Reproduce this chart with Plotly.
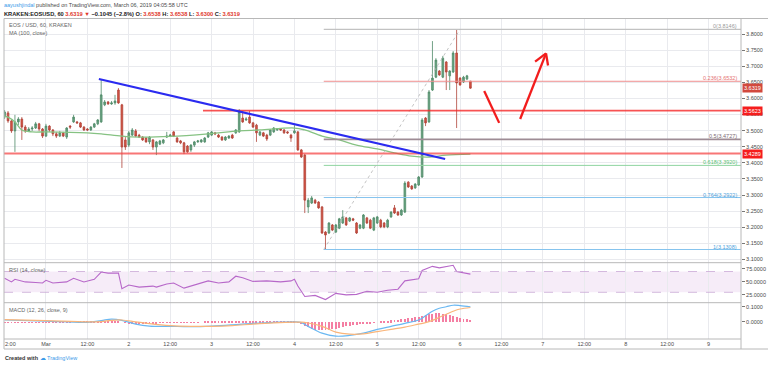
import pandas as pd
import plotly.graph_objects as go
from plotly.subplots import make_subplots

# ---------------- data (hourly candles, KRAKEN EOS/USD) ----------------
opens = [3.542, 3.555, 3.530, 3.499, 3.527, 3.536, 3.511, 3.499, 3.505, 3.508, 3.521, 3.505,
         3.483, 3.514, 3.502, 3.490, 3.483, 3.493, 3.480, 3.514, 3.527, 3.527, 3.524, 3.511,
         3.505, 3.502, 3.511, 3.521, 3.527, 3.580, 3.589, 3.583, 3.586, 3.626, 3.580, 3.471,
         3.455, 3.486, 3.499, 3.486, 3.480, 3.477, 3.465, 3.471, 3.449, 3.458, 3.462, 3.480,
         3.483, 3.496, 3.477, 3.468, 3.462, 3.452, 3.440, 3.455, 3.465, 3.465, 3.465, 3.480,
         3.486, 3.493, 3.486, 3.480, 3.471, 3.477, 3.486, 3.493, 3.496, 3.539, 3.533, 3.542,
         3.524, 3.517, 3.486, 3.493, 3.486, 3.486, 3.496, 3.502, 3.505, 3.502, 3.496, 3.486,
         3.493, 3.496, 3.440, 3.424, 3.263, 3.275, 3.284, 3.278, 3.263, 3.185, 3.182, 3.207,
         3.185, 3.197, 3.213, 3.229, 3.219, 3.226, 3.213, 3.197, 3.197, 3.229, 3.222, 3.191,
         3.213, 3.222, 3.213, 3.201, 3.232, 3.260, 3.247, 3.238, 3.247, 3.340, 3.328, 3.322,
         3.331, 3.356, 3.539, 3.527, 3.626, 3.666, 3.685, 3.666, 3.713, 3.670, 3.682, 3.741,
         3.663, 3.651, 3.660, 3.6538]
highs = [3.564, 3.561, 3.533, 3.549, 3.542, 3.542, 3.517, 3.511, 3.514, 3.527, 3.524, 3.508,
         3.521, 3.517, 3.505, 3.496, 3.499, 3.496, 3.511, 3.517, 3.549, 3.530, 3.527, 3.514,
         3.508, 3.514, 3.524, 3.536, 3.660, 3.595, 3.592, 3.592, 3.611, 3.632, 3.583, 3.480,
         3.499, 3.508, 3.505, 3.490, 3.483, 3.480, 3.483, 3.474, 3.468, 3.471, 3.474, 3.496,
         3.490, 3.499, 3.480, 3.471, 3.465, 3.455, 3.458, 3.468, 3.471, 3.474, 3.480, 3.496,
         3.499, 3.496, 3.490, 3.483, 3.483, 3.486, 3.490, 3.505, 3.567, 3.561, 3.542, 3.561,
         3.527, 3.521, 3.499, 3.496, 3.490, 3.505, 3.511, 3.508, 3.508, 3.505, 3.499, 3.490,
         3.517, 3.499, 3.443, 3.427, 3.291, 3.297, 3.288, 3.281, 3.266, 3.188, 3.216, 3.210,
         3.210, 3.229, 3.253, 3.232, 3.232, 3.229, 3.216, 3.210, 3.241, 3.232, 3.226, 3.232,
         3.235, 3.226, 3.216, 3.226, 3.250, 3.269, 3.250, 3.257, 3.343, 3.343, 3.331, 3.337,
         3.359, 3.539, 3.542, 3.626, 3.778, 3.725, 3.688, 3.732, 3.716, 3.688, 3.747, 3.8146,
         3.666, 3.670, 3.673, 3.6538]
lows = [3.536, 3.524, 3.493, 3.434, 3.517, 3.471, 3.493, 3.496, 3.499, 3.505, 3.499, 3.477,
        3.480, 3.496, 3.483, 3.477, 3.480, 3.480, 3.474, 3.505, 3.524, 3.521, 3.508, 3.499,
        3.499, 3.499, 3.508, 3.517, 3.524, 3.576, 3.580, 3.580, 3.580, 3.583, 3.384, 3.440,
        3.449, 3.483, 3.480, 3.477, 3.468, 3.462, 3.458, 3.440, 3.424, 3.455, 3.458, 3.477,
        3.480, 3.480, 3.462, 3.458, 3.427, 3.431, 3.434, 3.449, 3.462, 3.462, 3.462, 3.477,
        3.483, 3.486, 3.477, 3.468, 3.468, 3.474, 3.474, 3.490, 3.493, 3.524, 3.530, 3.521,
        3.508, 3.465, 3.483, 3.480, 3.468, 3.483, 3.493, 3.499, 3.499, 3.490, 3.490, 3.465,
        3.490, 3.437, 3.415, 3.244, 3.244, 3.272, 3.272, 3.257, 3.179, 3.1308, 3.179, 3.188,
        3.182, 3.194, 3.210, 3.204, 3.216, 3.219, 3.179, 3.194, 3.194, 3.210, 3.194, 3.188,
        3.210, 3.197, 3.197, 3.197, 3.229, 3.241, 3.235, 3.235, 3.244, 3.322, 3.316, 3.319,
        3.328, 3.353, 3.514, 3.524, 3.623, 3.663, 3.670, 3.663, 3.626, 3.626, 3.679, 3.508,
        3.639, 3.648, 3.657, 3.630]
closes = [3.558, 3.530, 3.499, 3.527, 3.536, 3.511, 3.499, 3.505, 3.508, 3.521, 3.505, 3.483,
          3.514, 3.502, 3.490, 3.483, 3.493, 3.483, 3.508, 3.511, 3.542, 3.524, 3.511, 3.502,
          3.502, 3.511, 3.521, 3.533, 3.611, 3.589, 3.583, 3.586, 3.592, 3.586, 3.449, 3.449,
          3.493, 3.502, 3.483, 3.480, 3.471, 3.465, 3.480, 3.449, 3.465, 3.468, 3.471, 3.483,
          3.486, 3.483, 3.465, 3.462, 3.434, 3.434, 3.455, 3.465, 3.468, 3.471, 3.477, 3.493,
          3.496, 3.490, 3.480, 3.471, 3.480, 3.483, 3.477, 3.502, 3.558, 3.527, 3.536, 3.524,
          3.511, 3.493, 3.496, 3.483, 3.474, 3.502, 3.508, 3.505, 3.502, 3.493, 3.493, 3.477,
          3.499, 3.440, 3.418, 3.284, 3.284, 3.291, 3.275, 3.260, 3.182, 3.176, 3.213, 3.191,
          3.207, 3.226, 3.232, 3.207, 3.229, 3.222, 3.182, 3.207, 3.238, 3.213, 3.197, 3.229,
          3.232, 3.201, 3.201, 3.222, 3.247, 3.244, 3.238, 3.253, 3.337, 3.325, 3.319, 3.334,
          3.356, 3.533, 3.524, 3.620, 3.663, 3.719, 3.673, 3.725, 3.682, 3.685, 3.741, 3.648,
          3.642, 3.666, 3.670, 3.6319]
first_candle = "2019-02-28 12:00"

# MA(100, close), read at hours after 2019-03-01 00:00
ma_hours = [-12, -11, -9, -7, -4, 0, 12, 16, 22, 27, 36, 47, 56, 62, 72, 75, 80, 85, 90, 96, 101, 106, 111, 116, 123]
ma_values = [3.545, 3.542, 3.527, 3.502, 3.496, 3.496, 3.493, 3.490, 3.483, 3.480, 3.482, 3.490, 3.499,
             3.502, 3.508, 3.502, 3.483, 3.471, 3.455, 3.443, 3.431, 3.421, 3.418, 3.424, 3.427]

# RSI(14)
rsi_hours = [-12, -10, -9, -6, -3, -1, 0, 2, 6, 8, 11, 14, 16, 18, 21, 22, 24, 27, 31, 32,
             35, 37, 40, 43, 45, 47, 50, 53, 55, 57, 60, 64, 68, 71, 72, 73, 75, 78, 81, 84,
             87, 90, 93, 96, 99, 102, 104, 108, 109, 112, 114, 116, 118, 119, 121, 123]
rsi_values = [57, 50, 55, 50, 49, 48, 53, 48, 50, 57, 50, 55, 69, 67, 67, 37, 44, 40, 42, 40,
              46, 48, 38, 44, 48, 52, 48, 50, 61, 58, 51, 52, 50, 52, 55, 42, 22, 24, 16, 28,
              25, 26, 32, 30, 34, 36, 52, 56, 72, 80, 77, 79, 82, 70, 68, 65]

# MACD(12, 26, close, 9)
macd_hours = [-12, 0, 12, 16, 19, 22, 26, 30, 36, 42, 48, 54, 60, 66, 72, 74, 76, 80, 84, 88,
              92, 96, 100, 104, 108, 110, 112, 114, 116, 118, 120, 123]
macd_values = [0.012, 0.005, -0.003, 0.008, 0.018, 0.010, -0.015, -0.028, -0.030, -0.032,
               -0.028, -0.020, -0.010, -0.003, 0.000, -0.005, -0.030, -0.075, -0.095, -0.090,
               -0.075, -0.050, -0.030, -0.010, 0.012, 0.040, 0.070, 0.090, 0.100, 0.110, 0.108, 0.100]
signal_values = [0.015, 0.008, 0.000, 0.002, 0.010, 0.012, 0.000, -0.012, -0.025, -0.030,
                 -0.030, -0.025, -0.015, -0.007, -0.002, -0.002, -0.008, -0.030, -0.068, -0.082,
                 -0.080, -0.065, -0.050, -0.035, -0.015, -0.005, 0.010, 0.030, 0.050, 0.070, 0.085, 0.095]
hist_values = [-0.003, -0.003, -0.002, -0.002, -0.002, -0.002, -0.001, -0.001, -0.001, -0.001, -0.002, -0.002,
               -0.002, -0.002, -0.002, -0.002, -0.001, -0.001, -0.001, -0.001, 0.0, 0.0, 0.001, 0.001,
               0.001, 0.002, 0.003, 0.004, 0.005, 0.006, 0.007, 0.008, 0.008, 0.006,
               0.0, -0.004, -0.007, -0.009, -0.01, -0.01, -0.01, -0.009, -0.008, -0.007, -0.006, -0.005, -0.004, -0.003,
               -0.002, -0.002, -0.002, -0.002, -0.003, -0.003, -0.002, -0.001, -0.001, 0.0, 0.001, 0.001,
               0.002, 0.002, 0.003, 0.003, 0.004, 0.004, 0.005, 0.005, 0.006, 0.006, 0.006, 0.006,
               0.006, 0.005, 0.005, 0.005, 0.004, 0.004, 0.004, 0.003, 0.003, 0.003, 0.002, 0.002,
               0.002, -0.004, -0.01, -0.025, -0.035, -0.045, -0.05, -0.052, -0.055, -0.055, -0.052, -0.048,
               -0.043, -0.038, -0.033, -0.028, -0.024, -0.02, -0.017, -0.014, -0.011, -0.008, -0.006, -0.004,
               0.0, 0.003, 0.006, 0.009, 0.012, 0.015, 0.017, 0.019, 0.024, 0.027, 0.029, 0.031,
               0.034, 0.042, 0.047, 0.052, 0.056, 0.058, 0.058, 0.056, 0.052, 0.048, 0.043, 0.036,
               0.03, 0.024, 0.019, 0.014]

# drawings
fib_ratios = ["0", "0.236", "0.5", "0.618", "0.764", "1"]
fib_prices = [3.8146, 3.6532, 3.4727, 3.3920, 3.2922, 3.1308]
level_prices = [3.5623, 3.4289]
last_price = 3.6319
trend_times = ["2019-03-01 15:20", "2019-03-05 19:40"]
trend_prices = [3.6603, 3.4118]

tick_labels = ["12:00", "Mar", "12:00", "2", "12:00", "3", "12:00", "4", "12:00",
               "5", "12:00", "6", "12:00", "7", "12:00", "8", "12:00", "9"]

# ---------------- build ----------------
W, H = 768, 365
ML, MR, MT, MB = 4, 27, 19, 26
PW, PH = W - ML - MR, H - MT - MB
X0, X1 = pd.Timestamp("2019-02-28 11:50"), pd.Timestamp("2019-03-09 09:25")


def px(x):
    return (x - ML) / PW


def py(y):
    return (H - MB - y) / PH


day0 = pd.Timestamp("2019-03-01 00:00")
times = pd.date_range(first_candle, periods=len(closes), freq="h")
ma_t = [day0 + pd.Timedelta(hours=h) for h in ma_hours]
rsi_t = [day0 + pd.Timedelta(hours=h) for h in rsi_hours]
macd_t = [day0 + pd.Timedelta(hours=h) for h in macd_hours]
tick_vals = pd.date_range("2019-02-28 12:00", periods=len(tick_labels), freq="12h")

FONT = "Liberation Sans, Arial, sans-serif"
GRID = "#e9eaee"
BORDER = "#b8b8b8"
TXT = "#4a4a4a"

fig = make_subplots(rows=3, cols=1, shared_xaxes=True, vertical_spacing=0)

fig.add_trace(go.Scatter(x=ma_t, y=ma_values, mode="lines", line=dict(color="#86c283", width=1.3, shape="spline"),
                         hoverinfo="skip"), row=1, col=1)
fig.add_trace(go.Candlestick(x=times, open=opens, high=highs, low=lows, close=closes,
                             increasing=dict(fillcolor="#6ba583", line=dict(color="#4f8a68", width=0.8)),
                             decreasing=dict(fillcolor="#d75442", line=dict(color="#b0443a", width=0.8)),
                             whiskerwidth=0), row=1, col=1)

fig.add_trace(go.Scatter(x=rsi_t, y=rsi_values, mode="lines", line=dict(color="#b768c9", width=1.1),
                         hoverinfo="skip"), row=2, col=1)

fig.add_trace(go.Bar(x=times, y=hist_values, marker=dict(color="#f47fa3", line=dict(width=0)),
                     width=1.0e6), row=3, col=1)
fig.add_trace(go.Scatter(x=macd_t, y=macd_values, mode="lines", line=dict(color="#6ab8f2", width=1.2, shape="spline"),
                         hoverinfo="skip"), row=3, col=1)
fig.add_trace(go.Scatter(x=macd_t, y=signal_values, mode="lines", line=dict(color="#f9b57a", width=1.2, shape="spline"),
                         hoverinfo="skip"), row=3, col=1)

fig.update_xaxes(range=[X0, X1], tickvals=tick_vals, ticktext=tick_labels, showgrid=True, gridcolor=GRID,
                 gridwidth=1, zeroline=False, showline=False, showticklabels=False, ticks="",
                 rangeslider_visible=False)
fig.update_xaxes(showticklabels=True, tickfont=dict(size=5.5, color=TXT, family=FONT), ticklen=0, row=3, col=1)

common_y = dict(side="right", showgrid=True, gridcolor=GRID, zeroline=False, showline=False,
                ticks="outside", ticklen=3, tickcolor="#777", tickformat=".4f",
                tickfont=dict(size=5.5, color=TXT, family=FONT))
fig.update_yaxes(range=[3.0898, 3.8466], tick0=3.0, dtick=0.05, row=1, col=1, **common_y)
fig.update_yaxes(range=[10, 87], tickvals=[25, 50, 75], row=2, col=1, **{**common_y, "showgrid": False})
fig.update_yaxes(range=[-0.114, 0.127], tickvals=[0, 0.1], row=3, col=1, **{**common_y, "showgrid": False})
fig.update_layout(yaxis=dict(domain=[py(262.7), 1]), yaxis2=dict(domain=[py(302.7), py(262.7)]),
                  yaxis3=dict(domain=[0, py(302.7)]))

shapes = []
# RSI band
shapes.append(dict(type="rect", xref="x2 domain", yref="y2", x0=0, x1=1, y0=30, y1=70,
                   fillcolor="rgba(156,39,176,0.09)", line=dict(width=0), layer="below"))
for lv in (30, 70):
    shapes.append(dict(type="line", xref="x2 domain", yref="y2", x0=0, x1=1, y0=lv, y1=lv,
                       line=dict(color="#c9a8d4", width=0.8, dash="dash")))

# fib retracement
fib_colors = ["#c2c2c2", "#f08f8f", "#9e8c95", "#8fd4a0", "#86c4ee", "#86c4ee"]
fib_widths = [1.2, 1.0, 1.6, 1.0, 1.0, 1.0]
fib_start = pd.Timestamp("2019-03-04 08:30")
for r, p, c, w in zip(fib_ratios, fib_prices, fib_colors, fib_widths):
    shapes.append(dict(type="line", xref="x", yref="y", x0=fib_start, x1=X1, y0=p, y1=p,
                       line=dict(color=c, width=w)))
shapes.append(dict(type="line", xref="x", yref="y", x0=fib_start, x1=pd.Timestamp("2019-03-06 00:00"),
                   y0=fib_prices[-1], y1=fib_prices[0], line=dict(color="#b5b5b5", width=0.8, dash="dot")))

# horizontal support/resistance
shapes.append(dict(type="line", xref="x", yref="y", x0=pd.Timestamp("2019-03-02 21:30"), x1=X1,
                   y0=level_prices[0], y1=level_prices[0], line=dict(color="rgba(245,40,40,0.8)", width=1.8)))
shapes.append(dict(type="line", xref="x", yref="y", x0=X0, x1=X1,
                   y0=level_prices[1], y1=level_prices[1], line=dict(color="rgba(245,60,60,0.7)", width=1.8)))

# trend line
shapes.append(dict(type="line", xref="x", yref="y", x0=pd.Timestamp(trend_times[0]), x1=pd.Timestamp(trend_times[1]),
                   y0=trend_prices[0], y1=trend_prices[1], line=dict(color="#2b2bf0", width=2.2)))

# hand drawn arrows
ARW = dict(color="#f21d1d", width=2.3)
shapes.append(dict(type="line", xref="x", yref="y", x0=pd.Timestamp("2019-03-06 07:00"), y0=3.623,
                   x1=pd.Timestamp("2019-03-06 11:20"), y1=3.524, line=ARW))
tip = (pd.Timestamp("2019-03-07 00:55"), 3.740)
shapes.append(dict(type="line", xref="x", yref="y", x0=pd.Timestamp("2019-03-06 17:25"), y0=3.536,
                   x1=tip[0], y1=tip[1], line=ARW))
shapes.append(dict(type="line", xref="x", yref="y", x0=pd.Timestamp("2019-03-06 21:45"), y0=3.714,
                   x1=tip[0], y1=tip[1], line=ARW))
shapes.append(dict(type="line", xref="x", yref="y", x0=pd.Timestamp("2019-03-07 01:30"), y0=3.702,
                   x1=tip[0], y1=tip[1], line=ARW))

# frame / pane borders
B = dict(color=BORDER, width=1)
for yy in (18.5, 262.7, 302.7, 349):
    shapes.append(dict(type="line", xref="paper", yref="paper", x0=px(4), x1=px(768) if yy in (18.5, 349) else 1,
                       y0=py(yy), y1=py(yy), line=B))
shapes.append(dict(type="line", xref="paper", yref="paper", x0=0, x1=1, y0=0, y1=0, line=B))
shapes.append(dict(type="line", xref="paper", yref="paper", x0=px(4), x1=px(4), y0=py(349), y1=py(18.5), line=B))
shapes.append(dict(type="line", xref="paper", yref="paper", x0=1, x1=1, y0=py(349), y1=py(18.5), line=B))
fig.update_layout(shapes=shapes)

ann = []
SM = 5.5
ann.append(dict(xref="paper", yref="paper", x=px(2), y=py(5.5), xanchor="left", yanchor="middle", showarrow=False,
                text='<span style="color:#3d9be9">aayushjindal</span> published on TradingView.com, March 06, 2019 04:05:58 UTC',
                font=dict(size=SM, color=TXT, family=FONT)))
R = "#e0362b"
ann.append(dict(xref="paper", yref="paper", x=px(2), y=py(13.5), xanchor="left", yanchor="middle", showarrow=False,
                text=(f'<b>KRAKEN:EOSUSD, 60 <span style="color:{R}">3.6319 ▼</span> −0.1045 (−2.8%) '
                      f'O: <span style="color:{R}">3.6538</span> H: <span style="color:{R}">3.6538</span> '
                      f'L: <span style="color:{R}">3.6300</span> C: <span style="color:{R}">3.6319</span></b>'),
                font=dict(size=5.7, color="#222", family=FONT)))
ann.append(dict(xref="paper", yref="paper", x=px(7), y=py(25), xanchor="left", yanchor="middle", showarrow=False,
                text="EOS / USD, 60, KRAKEN", font=dict(size=SM, color="#666", family=FONT)))
ann.append(dict(xref="paper", yref="paper", x=px(7), y=py(33), xanchor="left", yanchor="middle", showarrow=False,
                text="MA (100, close)", font=dict(size=SM, color="#666", family=FONT)))
ann.append(dict(xref="paper", yref="paper", x=px(7), y=py(270), xanchor="left", yanchor="middle", showarrow=False,
                text="RSI (14, close)", font=dict(size=SM, color="#666", family=FONT)))
ann.append(dict(xref="paper", yref="paper", x=px(7), y=py(310), xanchor="left", yanchor="middle", showarrow=False,
                text="MACD (12, 26, close, 9)", font=dict(size=SM, color="#666", family=FONT)))
ann.append(dict(xref="paper", yref="paper", x=px(3), y=py(358), xanchor="left", yanchor="middle", showarrow=False,
                text='<b>Created with</b> <span style="color:#3d9be9">☁ TradingView</span>',
                font=dict(size=SM, color="#333", family=FONT)))
# first (clipped) time label at the left edge
ann.append(dict(xref="paper", yref="paper", x=px(3), y=py(344), xanchor="left", yanchor="middle", showarrow=False,
                text="2:00", font=dict(size=SM, color=TXT, family=FONT)))

fib_text_colors = ["#9a9a9a", "#e57373", "#7d6b73", "#5cbf75", "#4fa3dc", "#4fa3dc"]
for r, p, c in zip(fib_ratios, fib_prices, fib_text_colors):
    ann.append(dict(xref="paper", yref="y", x=px(738), y=p, xanchor="right", yanchor="bottom", showarrow=False,
                    text=f"{r}({p:.4f})", font=dict(size=SM, color=c, family=FONT), borderpad=0, yshift=-1))

for p, bg in ((last_price, "#d2493d"), (level_prices[0], "#f51d1d"), (level_prices[1], "#f51d1d")):
    ann.append(dict(xref="paper", yref="y", x=px(742), y=p, xanchor="left", yanchor="middle", showarrow=False,
                    text=f"{p:.4f}", font=dict(size=SM, color="white", family=FONT), bgcolor=bg, borderpad=1))
fig.update_layout(annotations=ann)

fig.update_layout(width=W, height=H, margin=dict(l=ML, r=MR, t=MT, b=MB, autoexpand=False),
                  paper_bgcolor="white", plot_bgcolor="white", showlegend=False, bargap=0,
                  font=dict(family=FONT, size=SM, color=TXT))

fig.write_html("out.html", config={"displayModeBar": False},
               post_script="document.body.style.margin='0';document.body.style.overflow='hidden';")
